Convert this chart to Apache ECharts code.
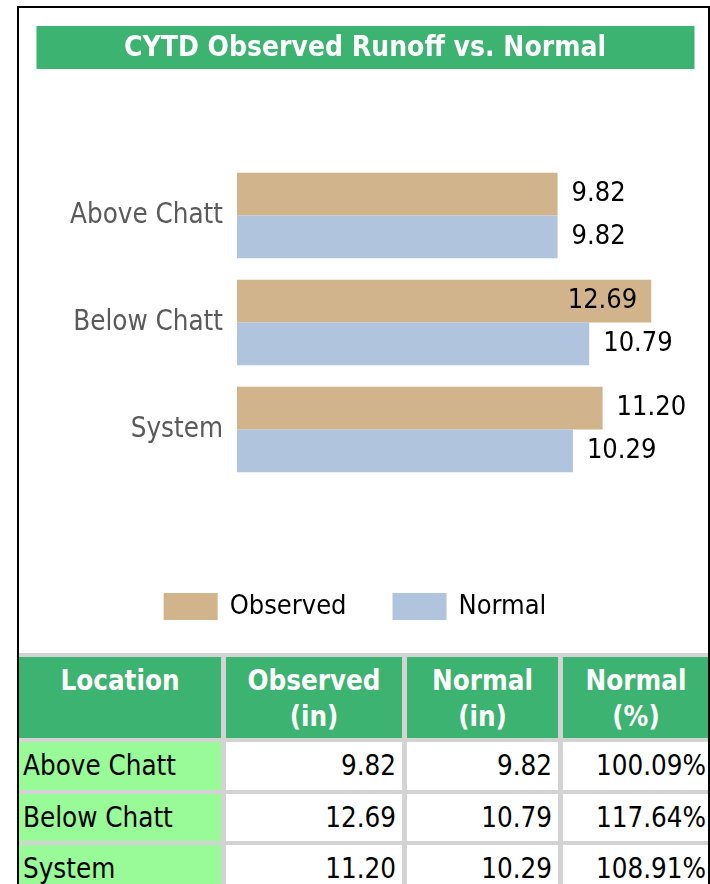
<!DOCTYPE html>
<html>
<head>
<meta charset="utf-8">
<script src="https://cdn.jsdelivr.net/npm/echarts@6.0.0/dist/echarts.min.js"></script>
<style>
  html, body { margin: 0; padding: 0; background: #fff; }
  body { width: 710px; height: 884px; position: relative; overflow: hidden;
         font-family: "DejaVu Sans Condensed", "DejaVu Sans", sans-serif; }
  #frame { position: absolute; left: 17px; top: 6px; width: 689px; height: 900px;
           border: 2px solid #000; border-bottom: none; overflow: hidden; }
  #chart { position: absolute; left: 0; top: 0; width: 710px; height: 652px; z-index: 2; }
  #tbl { position: absolute; left: -5px; top: 645px; width: 700px; background: #d3d3d3;
         border-collapse: separate; border-spacing: 5px 4px; table-layout: fixed; }
  #tbl th, #tbl td { padding: 0; }
  #tbl th { background: #3cb371; color: #fff; font-weight: bold; }
  #tbl td { background: #fff; color: #000; }
  #tbl td.loc { background: #98fb98; }
  .h { height: 81px; box-sizing: border-box; padding-top: 5px; line-height: 36px;
       font-size: 27.5px; text-align: center; }
  .d { height: 47.5px; line-height: 46px; font-size: 27.5px; text-align: right;
       padding: 0 6px; white-space: nowrap; }
  .loc .d { text-align: left; padding: 0 4px; }
  .pct .d { padding-right: 3px; }
</style>
</head>
<body>
<div id="frame">
  <table id="tbl">
    <colgroup><col style="width:202px"><col style="width:176px"><col style="width:151px"><col style="width:146px"></colgroup>
    <thead><tr id="head"></tr></thead>
    <tbody id="rows"></tbody>
  </table>
</div>
<div id="chart"></div>
<script>
// chart data
var categories = ['Above Chatt', 'Below Chatt', 'System'];
var observed = [9.82, 12.69, 11.20];
var normal = [9.82, 10.79, 10.29];
var normalPct = [100.09, 117.64, 108.91];
var tableHeads = ['Location', 'Observed<br>(in)', 'Normal<br>(in)', 'Normal<br>(%)'];

var FONT = '"DejaVu Sans Condensed", "DejaVu Sans", sans-serif';
// a label that would run off the right edge is drawn inside the bar
var insideCutoff = 12;

function barData(values) {
  return values.map(function (v) {
    var item = { value: v };
    if (v > insideCutoff) item.label = { position: 'insideRight' };
    return item;
  });
}

var valueLabel = {
  show: true, position: 'right', distance: 14, fontSize: 27, color: '#000',
  formatter: function (p) { return p.value.toFixed(2); }
};

var chart = echarts.init(document.getElementById('chart'));
chart.setOption({
  animation: false,
  textStyle: { fontFamily: FONT },
  graphic: [
    { type: 'rect', shape: { x: 36.5, y: 26, width: 658, height: 43 }, style: { fill: '#3cb371' } },
    { type: 'text', x: 365, y: 48.5,
      style: { text: 'CYTD Observed Runoff vs. Normal', align: 'center', verticalAlign: 'middle',
               fill: '#fff', font: 'bold 28px ' + FONT } }
  ],
  legend: {
    left: 'center', top: 588, itemWidth: 54, itemHeight: 27, itemGap: 46,
    icon: 'rect',
    textStyle: { fontSize: 27, color: '#000', padding: [0, 0, 0, 7] }
  },
  grid: { left: 237, right: 16, top: 162, height: 321, containLabel: false },
  xAxis: { type: 'value', min: 0, max: 14, show: false },
  yAxis: {
    type: 'category', data: categories, inverse: true,
    axisLine: { show: false }, axisTick: { show: false },
    axisLabel: { fontSize: 27.5, color: '#5a5a5a', margin: 14 }
  },
  series: [
    { name: 'Observed', type: 'bar', data: barData(observed), barGap: '0%', barCategoryGap: '20%',
      itemStyle: { color: '#d2b48c' }, label: valueLabel },
    { name: 'Normal', type: 'bar', data: barData(normal), barGap: '0%', barCategoryGap: '20%',
      itemStyle: { color: '#b0c4de' }, label: valueLabel }
  ]
});

// table under the chart
var head = document.getElementById('head');
tableHeads.forEach(function (h) {
  var th = document.createElement('th');
  th.innerHTML = '<div class="h">' + h + '</div>';
  head.appendChild(th);
});
var rows = document.getElementById('rows');
categories.forEach(function (c, i) {
  var tr = document.createElement('tr');
  var cells = [c, observed[i].toFixed(2), normal[i].toFixed(2), normalPct[i].toFixed(2) + '%'];
  cells.forEach(function (v, j) {
    var td = document.createElement('td');
    if (j === 0) td.className = 'loc';
    if (j === 3) td.className = 'pct';
    td.innerHTML = '<div class="d">' + v + '</div>';
    tr.appendChild(td);
  });
  rows.appendChild(tr);
});
</script>
</body>
</html>
